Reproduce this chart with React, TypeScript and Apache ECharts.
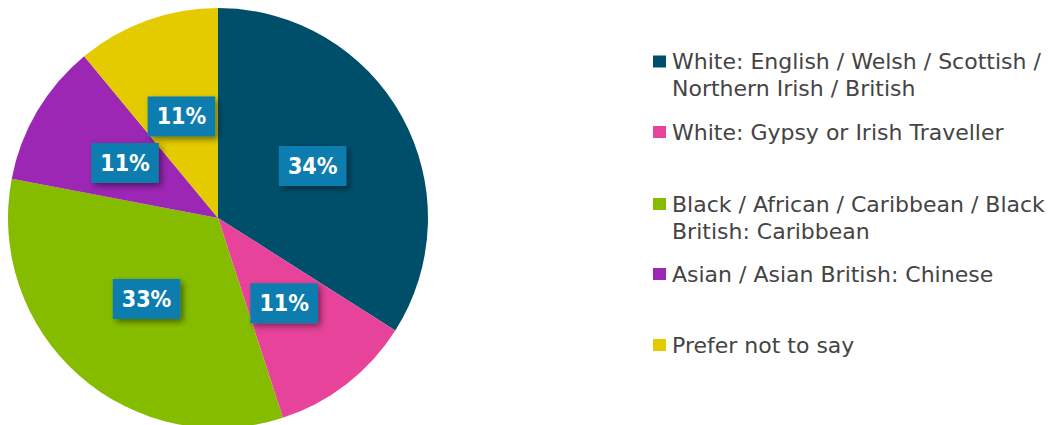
import React, { useEffect, useRef } from "react";
import * as echarts from "echarts";

const categories = [
  "White: English / Welsh / Scottish /\nNorthern Irish / British",
  "White: Gypsy or Irish Traveller",
  "Black / African / Caribbean / Black\nBritish: Caribbean",
  "Asian / Asian British: Chinese",
  "Prefer not to say",
];
const values = [34, 11, 33, 11, 11];
const colors = ["#004F6A", "#E8439B", "#86BC00", "#9B27B4", "#E3CB00"];

const legendLineCenters = [61.5, 132, 204, 274, 345];

export default function App() {
  const ref = useRef<HTMLDivElement>(null);
  useEffect(() => {
    if (!ref.current) return;
    const chart = echarts.init(ref.current, null, { renderer: "svg" });
    const labelFont = "'DejaVu Sans Condensed', 'DejaVu Sans', sans-serif";
    const legendFont = "'DejaVu Sans', sans-serif";
    const rich: any = {
      g: { width: 6, height: 12 },
      s: { width: 19, height: 12 },
      t: { color: "#444444", fontSize: 22, fontFamily: legendFont, lineHeight: 27 },
    };
    colors.forEach((c, i) => {
      rich["m" + i] = { width: 13, height: 12, backgroundColor: c };
    });
    const legends = categories.map((name, i) => ({
      show: true,
      orient: "vertical",
      left: 648,
      top: legendLineCenters[i] - 13.5,
      padding: 0,
      icon: "rect",
      itemWidth: 0,
      itemHeight: 27,
      selectedMode: false,
      data: [name],
      formatter: (n: string) => {
        const idx = categories.indexOf(n);
        const lines = n.split("\n");
        let s = `{m${idx}|}{g|}{t|${lines[0]}}`;
        for (let k = 1; k < lines.length; k++) s += `\n{s|}{t|${lines[k]}}`;
        return s;
      },
      textStyle: { rich, lineHeight: 27 },
    }));
    chart.setOption({
      animation: false,
      color: colors,
      legend: legends,
      series: [
        {
          type: "pie",
          center: [218, 218],
          radius: [0, 210],
          startAngle: 90,
          clockwise: true,
          data: categories.map((name, i) => ({
            name,
            value: values[i],
            itemStyle: { color: colors[i] },
          })),
          label: {
            show: true,
            position: "inside",
            formatter: (p: any) => Math.round(p.percent) + "%",
            color: "#ffffff",
            fontWeight: "bold",
            fontSize: 23,
            fontFamily: labelFont,
            backgroundColor: "#0A7DB0",
            padding: [9, 9, 8, 9],
            shadowColor: "rgba(0,0,0,0.45)",
            shadowBlur: 6,
            shadowOffsetX: 3,
            shadowOffsetY: 3,
          },
          labelLine: { show: false },
          emphasis: { disabled: true },
        },
      ],
    });
    return () => chart.dispose();
  }, []);
  return (
    <div
      ref={ref}
      style={{ position: "absolute", left: 0, top: 0, width: 1064, height: 425, background: "#ffffff" }}
    />
  );
}
